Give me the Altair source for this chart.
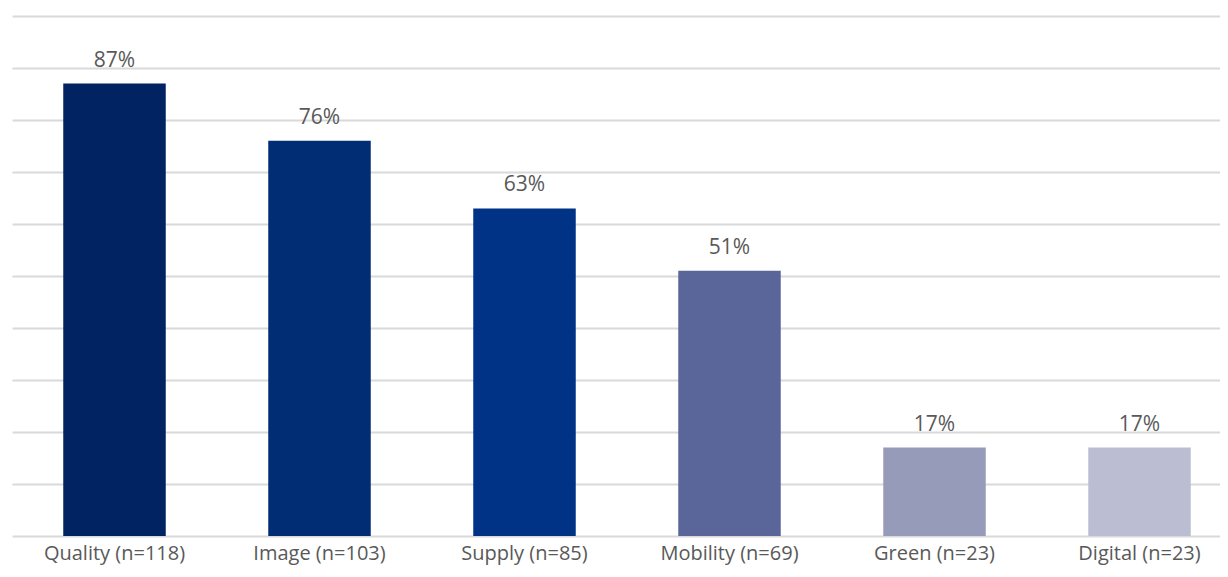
import altair as alt
import pandas as pd

categories = ["Quality (n=118)", "Image (n=103)", "Supply (n=85)", "Mobility (n=69)", "Green (n=23)", "Digital (n=23)"]
values = [0.87, 0.76, 0.63, 0.51, 0.17, 0.17]
colors = ["#012361", "#002D74", "#003385", "#5A6699", "#979BBA", "#BBBED2"]

df = pd.DataFrame({"cat": categories, "val": values, "color": colors})

x = alt.X("cat:N", sort=categories, title=None,
          scale=alt.Scale(range=[0, 1230], paddingInner=0.5, paddingOuter=0.25),
          axis=alt.Axis(labelAngle=0, labelFont="Open Sans", labelFontSize=20,
                        labelColor="#595959", labelPadding=7, ticks=False,
                        domain=False, grid=False))
y = alt.Y("val:Q", title=None, scale=alt.Scale(domain=[0, 1], nice=False),
          axis=alt.Axis(values=[i / 10 for i in range(11)], labels=False, ticks=False,
                        domain=False, grid=True, gridColor="#d9d9d9", gridWidth=2))

base = alt.Chart(df)
bars = base.mark_bar(clip=False).encode(x=x, y=y, color=alt.Color("color:N", scale=None))
text = base.mark_text(baseline="bottom", dy=-13, font="Open Sans", fontSize=21,
                      color="#595959").encode(
    x=alt.X("cat:N", sort=categories),
    y="val:Q",
    text=alt.Text("val:Q", format=".0%"))

chart = alt.layer(bars, text).properties(
    width=1208, height=520,
    autosize=alt.AutoSizeParams(type="none"),
    padding={"left": 4, "top": 8, "right": 0, "bottom": 33},
).configure_view(stroke=None)

chart.save("out.html", embed_options={"renderer": "svg", "actions": False})
